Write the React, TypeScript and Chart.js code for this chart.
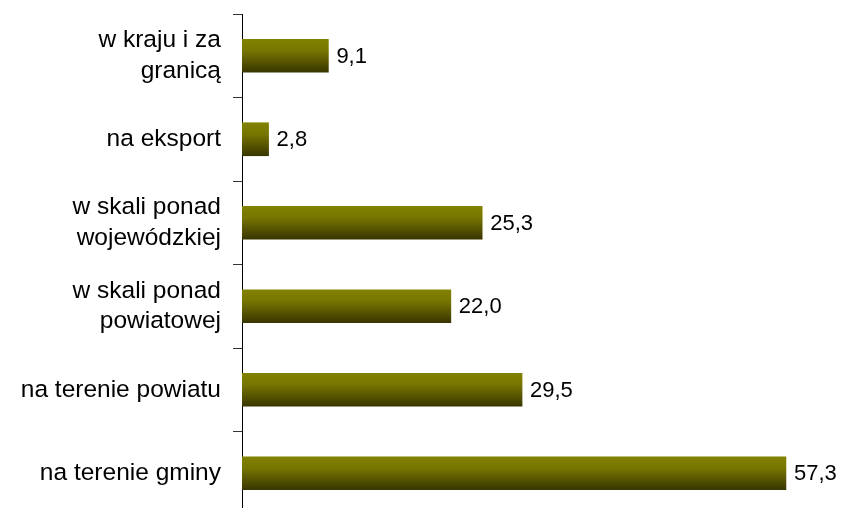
import React, { useEffect, useRef } from "react";
import { Chart, registerables } from "chart.js";

Chart.register(...registerables);

const categories: (string | string[])[] = [
  ["w kraju i za", "granicą"],
  "na eksport",
  ["w skali ponad", "wojewódzkiej"],
  ["w skali ponad", "powiatowej"],
  "na terenie powiatu",
  "na terenie gminy",
];
const values: number[] = [9.1, 2.8, 25.3, 22.0, 29.5, 57.3];
const xMax = 63.1;

const FONT = "'Liberation Sans', Arial, sans-serif";

const valueLabels = {
  id: "valueLabels",
  afterDatasetsDraw(chart: any) {
    const ctx = chart.ctx;
    const meta = chart.getDatasetMeta(0);
    ctx.save();
    ctx.font = `22px ${FONT}`;
    ctx.fillStyle = "#000";
    ctx.textAlign = "left";
    ctx.textBaseline = "middle";
    meta.data.forEach((el: any, i: number) => {
      const txt = values[i].toFixed(1).replace(".", ",");
      ctx.fillText(txt, el.x + 8, el.y + 1);
    });
    ctx.restore();
  },
};

export default function App() {
  const ref = useRef<HTMLCanvasElement>(null);
  useEffect(() => {
    if (!ref.current) return;
    const chart = new Chart(ref.current, {
      type: "bar",
      data: {
        labels: categories,
        datasets: [
          {
            data: values,
            barThickness: 33,
            borderWidth: 0,
            backgroundColor: (c: any) => {
              const ch = c.chart;
              const ys = ch.scales?.y;
              if (!ys || !ch.chartArea || c.dataIndex === undefined) return "#808000";
              const y = ys.getPixelForValue(c.dataIndex);
              const g = ch.ctx.createLinearGradient(0, y - 16.5, 0, y + 16.5);
              g.addColorStop(0, "#828200");
              g.addColorStop(0.35, "#777500");
              g.addColorStop(1, "#383600");
              return g;
            },
          },
        ],
      },
      options: {
        indexAxis: "y",
        animation: false,
        responsive: false,
        maintainAspectRatio: false,
        layout: { padding: { top: 14, right: 0, left: 0, bottom: 1 } },
        plugins: { legend: { display: false }, tooltip: { enabled: false } },
        scales: {
          x: {
            display: false,
            min: 0,
            max: xMax,
          },
          y: {
            offset: true,
            afterFit: (s: any) => {
              s.width = 242;
              s.paddingTop = 0;
              s.paddingBottom = 0;
            },
            border: { display: true, color: "#000", width: 1 },
            grid: {
              display: true,
              drawOnChartArea: false,
              offset: true,
              tickLength: 9,
              color: "#333",
            },
            ticks: {
              color: "#000",
              padding: 12,
              font: { family: FONT, size: 24.5, lineHeight: 1.24 },
            },
          },
        },
      },
      plugins: [valueLabels],
    });
    return () => chart.destroy();
  }, []);
  return (
    <div style={{ position: "fixed", left: 0, top: 0, width: 841, height: 508, overflow: "hidden", background: "#fff" }}>
      <canvas ref={ref} width={841} height={516} style={{ display: "block" }} />
    </div>
  );
}
